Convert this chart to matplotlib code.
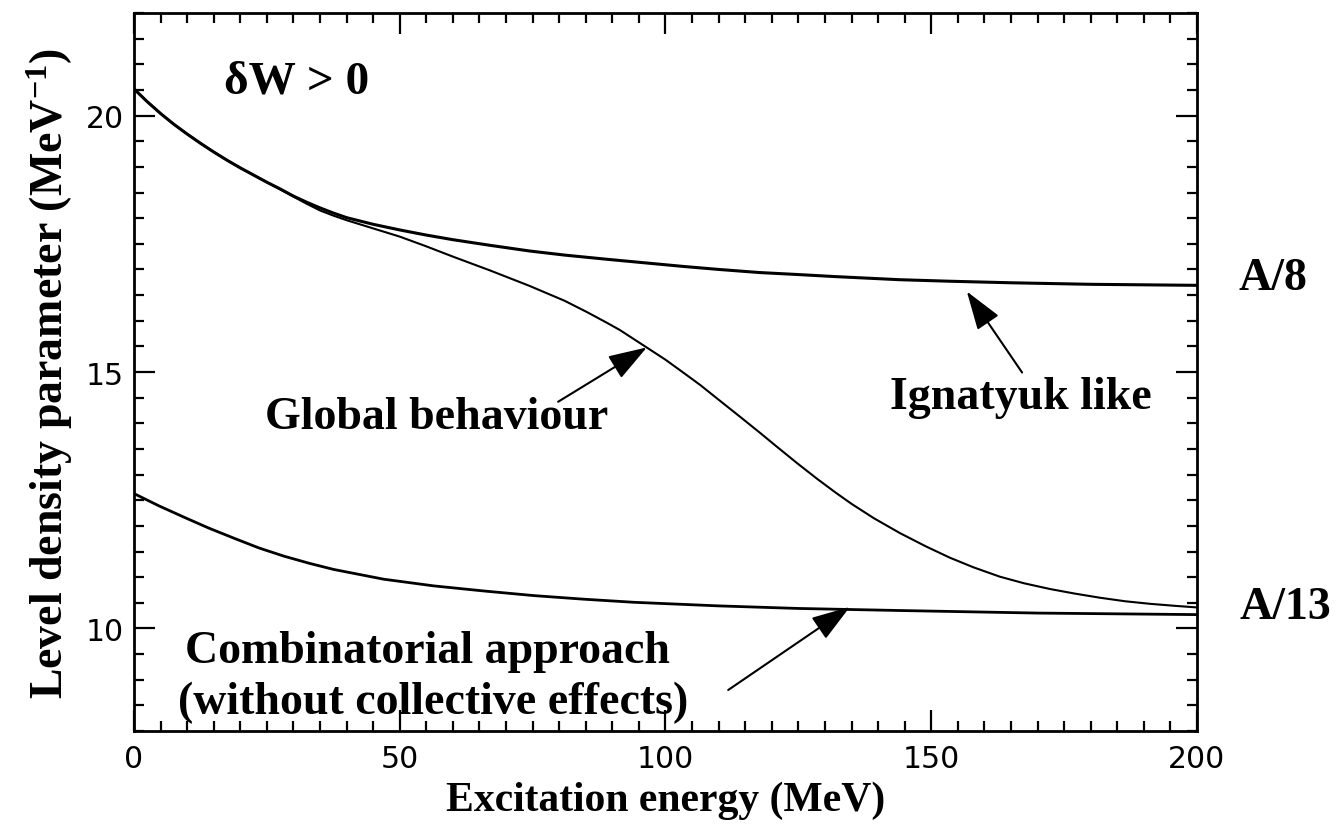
import matplotlib
matplotlib.use("Agg")
import matplotlib.pyplot as plt
from matplotlib.ticker import MultipleLocator

plt.rcParams['mathtext.fontset'] = 'custom'
plt.rcParams['mathtext.rm'] = 'Liberation Serif:bold'
plt.rcParams['mathtext.it'] = 'Liberation Serif:bold'
plt.rcParams['mathtext.bf'] = 'Liberation Serif:bold'

# level density parameter (MeV^-1) vs excitation energy (MeV)
E_ign = [0, 2.5, 5, 7.5, 10, 12.5, 15, 17.5, 20, 22.5, 25, 27.5, 30, 32.5, 35, 37.5, 40, 45, 50, 55, 60,
         67, 74.4, 81, 88.8, 96, 103.2, 110, 117.6, 125, 132, 144, 153.5, 165, 180, 200]
a_ign = [20.52, 20.27, 20.04, 19.83, 19.64, 19.46, 19.29, 19.13, 18.98, 18.84, 18.70, 18.57, 18.43, 18.31, 18.20, 18.10, 18.01, 17.88, 17.77, 17.67, 17.58,
         17.47, 17.36, 17.28, 17.20, 17.13, 17.06, 17.00, 16.94, 16.90, 16.86, 16.80, 16.77, 16.74, 16.71, 16.69]

E_glob = [0, 2.5, 5, 7.5, 10, 12.5, 15, 17.5, 20, 22.5, 25, 27.5, 30, 32.5, 35, 37.5, 40, 45, 50, 55, 60,
          67, 74.4, 81, 85.2, 88.8, 91.4, 96, 100, 103.2, 106.5, 110, 114, 117.6, 121, 124.8, 128.5, 132, 135,
          139.2, 144.1, 149, 153.5, 158, 162.9, 167.5, 172.3, 177, 181.7, 186.5, 191.2, 196, 200]
a_glob = [20.52, 20.27, 20.04, 19.83, 19.64, 19.46, 19.29, 19.13, 18.98, 18.84, 18.70, 18.56, 18.42, 18.28, 18.15, 18.05, 17.96, 17.80, 17.64, 17.45, 17.25,
          16.98, 16.68, 16.39, 16.17, 15.97, 15.82, 15.51, 15.24, 15.00, 14.75, 14.46, 14.13, 13.83, 13.54, 13.22, 12.92, 12.65, 12.43,
          12.15, 11.86, 11.60, 11.38, 11.19, 11.01, 10.88, 10.77, 10.68, 10.60, 10.53, 10.48, 10.44, 10.41]

E_comb = [0, 4.7, 9.4, 14, 18.8, 23.5, 28.2, 33, 37.6, 47, 56.4, 65.9, 75.3, 84.7, 94.1, 110, 125, 144, 170, 200]
a_comb = [12.63, 12.39, 12.17, 11.96, 11.76, 11.57, 11.41, 11.27, 11.15, 10.96, 10.83, 10.73, 10.64, 10.57, 10.51, 10.44, 10.39, 10.35, 10.30, 10.27]

fig = plt.figure(figsize=(13.44, 8.28), dpi=100)
ax = fig.add_axes([0.0997, 0.1159, 0.7909, 0.8672])

ax.plot(E_ign, a_ign, color='black', lw=2.2)
ax.plot(E_glob, a_glob, color='black', lw=1.5)
ax.plot(E_comb, a_comb, color='black', lw=2.0)

ax.set_xlim(0, 200)
ax.set_ylim(8, 22)
ax.xaxis.set_major_locator(MultipleLocator(50))
ax.xaxis.set_minor_locator(MultipleLocator(5))
ax.yaxis.set_major_locator(MultipleLocator(5))
ax.yaxis.set_minor_locator(MultipleLocator(0.5))
ax.tick_params(which='both', direction='in', top=True, right=True, width=1.6, color='black')
ax.tick_params(which='major', length=15)
ax.tick_params(which='minor', length=7)
ax.tick_params(axis='x', which='major', labelsize=21.5, pad=9)
ax.tick_params(axis='y', which='major', labelsize=21.5, pad=7)
for lab in ax.get_xticklabels() + ax.get_yticklabels():
    lab.set_family('DejaVu Sans')
for s in ax.spines.values():
    s.set_linewidth(2)

serif = dict(family='Liberation Serif', weight='bold', color='black')
ax.set_xlabel('Excitation energy (MeV)', fontsize=30, labelpad=6, **serif)
ax.set_ylabel('Level density parameter (MeV$^{-1}$)', fontsize=33, labelpad=8, **serif)

ax.text(30.5, 20.45, '\u03b4W > 0', fontsize=34, ha='center', va='baseline', **serif)
ax.text(214.3, 16.61, 'A/8', fontsize=33, ha='center', va='baseline', clip_on=False, **serif)
ax.text(216.6, 10.20, 'A/13', fontsize=33, ha='center', va='baseline', clip_on=False, **serif)

ax.text(57.0, 13.91, 'Global behaviour', fontsize=33, ha='center', va='baseline', **serif)
ax.text(166.8, 14.30, 'Ignatyuk like', fontsize=33, ha='center', va='baseline', **serif)
ax.text(9.6, 9.34, 'Combinatorial approach', fontsize=33, ha='left', va='baseline', **serif)
ax.text(8.3, 8.36, '(without collective effects)', fontsize=33, ha='left', va='baseline', **serif)

arrow = dict(arrowstyle='-|>,head_length=0.6,head_width=0.2', mutation_scale=40,
             color='black', lw=1.5, shrinkA=0, shrinkB=0)
ax.annotate('', xy=(96.5, 15.48), xytext=(79.8, 14.42), arrowprops=arrow)
ax.annotate('', xy=(156.7, 16.57), xytext=(167.1, 14.99), arrowprops=arrow)
ax.annotate('', xy=(134.7, 10.42), xytext=(111.8, 8.80), arrowprops=arrow)

fig.savefig('out.png', dpi=100)
